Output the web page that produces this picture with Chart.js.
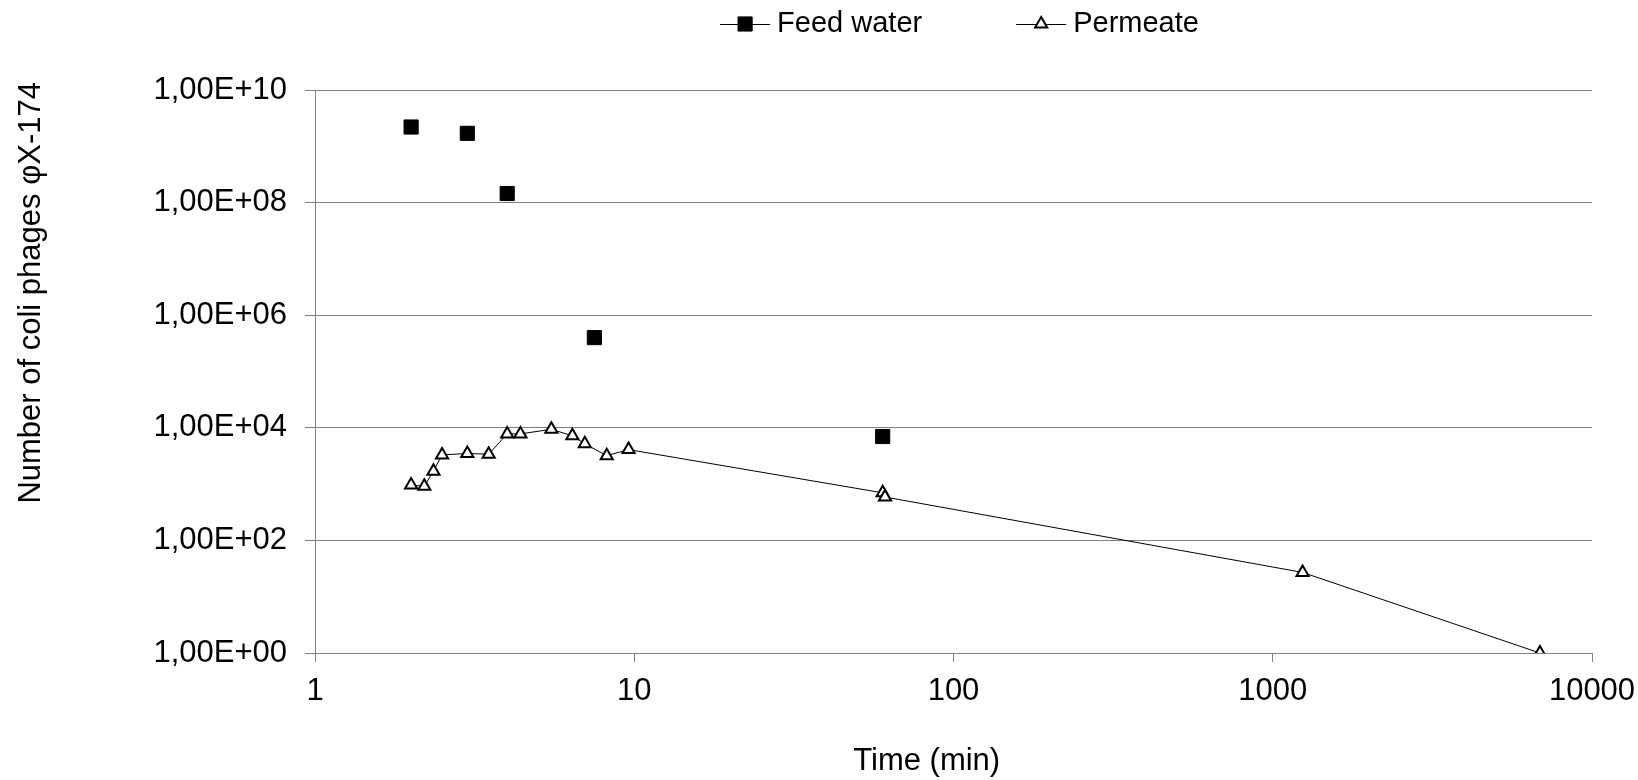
<!DOCTYPE html>
<html>
<head>
<meta charset="utf-8">
<script src="https://cdn.jsdelivr.net/npm/chart.js"></script>
<style>
  html, body { margin: 0; padding: 0; background: #fff; }
  #wrap { width: 1638px; height: 780px; }
</style>
</head>
<body>
<div id="wrap"><canvas id="phageChart" width="1638" height="780"></canvas></div>
<script>
// Datos
const feedTime = [2, 3, 4, 7.5, 60];
const feedCount = [2.2e9, 1.7e9, 1.45e8, 4.0e5, 7.0e3];

const permTime = [2, 2.2, 2.35, 2.5, 3, 3.5, 4, 4.4, 5.5, 6.4, 7, 8.2, 9.6, 60, 61, 1240, 6870];
const permCount = [960, 920, 1700, 3300, 3500, 3400, 7800, 7800, 9400, 7200, 5200, 3200, 4100, 700, 590, 27, 1];

const xTickValues = [1, 10, 100, 1000, 10000];
const xTickLabels = ['1', '10', '100', '1000', '10000'];
const yTickValues = [1, 1e2, 1e4, 1e6, 1e8, 1e10];
const yTickLabels = ['1,00E+00', '1,00E+02', '1,00E+04', '1,00E+06', '1,00E+08', '1,00E+10'];

const xTitle = 'Time (min)';
const yTitle = 'Number of coli phages φX-174';

const FONT = '"Liberation Sans", Arial, sans-serif';
const GRID = '#808080';

function toPoints(xs, ys) {
    return xs.map((x, i) => ({ x: x, y: ys[i] }));
}

// Leyenda dibujada a mano: línea + marcador + texto, centrada sobre el área del gráfico
const lineLegend = {
    id: 'lineLegend',
    afterDraw(chart) {
        const ctx = chart.ctx;
        const area = chart.chartArea;
        const lineLen = 50, textGap = 7, itemGap = 94;
        ctx.save();
        ctx.font = '29px ' + FONT;
        const items = chart.data.datasets.map(ds => ({
            ds: ds,
            w: lineLen + textGap + ctx.measureText(ds.label).width
        }));
        const total = items.reduce((s, it) => s + it.w, 0) + itemGap * (items.length - 1);
        let x = (area.left + area.right) / 2 + 6 - total / 2;
        const y = 24;
        items.forEach(it => {
            ctx.strokeStyle = '#000';
            ctx.lineWidth = 1;
            ctx.beginPath();
            ctx.moveTo(x, y + 0.5);
            ctx.lineTo(x + lineLen, y + 0.5);
            ctx.stroke();
            drawMarker(ctx, it.ds, x + lineLen / 2, y);
            ctx.fillStyle = '#000';
            ctx.textBaseline = 'middle';
            ctx.textAlign = 'left';
            ctx.fillText(it.ds.label, x + lineLen + textGap, y);
            x += it.w + itemGap;
        });
        ctx.restore();
    }
};

// Títulos de ejes (en el original no están centrados)
const axisTitles = {
    id: 'axisTitles',
    afterDraw(chart) {
        const ctx = chart.ctx;
        const area = chart.chartArea;
        ctx.save();
        ctx.fillStyle = '#000';
        ctx.font = '31px ' + FONT;
        ctx.textBaseline = 'middle';
        ctx.textAlign = 'center';
        ctx.fillText(xTitle, area.left + (area.right - area.left) * 0.479, 761);
        ctx.translate(31, area.top - 8);
        ctx.rotate(-Math.PI / 2);
        ctx.textAlign = 'right';
        ctx.fillText(yTitle, 0, 0);
        ctx.restore();
    }
};

function drawMarker(ctx, ds, cx, cy) {
    const r = ds.pointRadius;
    ctx.fillStyle = ds.pointBackgroundColor;
    ctx.strokeStyle = ds.pointBorderColor;
    ctx.lineWidth = ds.pointBorderWidth;
    ctx.beginPath();
    if (ds.pointStyle === 'rect') {
        const s = Math.SQRT1_2 * r;
        ctx.rect(cx - s, cy - s, 2 * s, 2 * s);
    } else {
        ctx.moveTo(cx, cy - r);
        ctx.lineTo(cx + r * Math.sin(Math.PI / 3), cy + r / 2);
        ctx.lineTo(cx - r * Math.sin(Math.PI / 3), cy + r / 2);
        ctx.closePath();
    }
    ctx.fill();
    ctx.stroke();
}

new Chart(document.getElementById('phageChart'), {
    type: 'scatter',
    data: {
        datasets: [{
            label: 'Feed water',
            data: toPoints(feedTime, feedCount),
            showLine: false,
            pointStyle: 'rect',
            pointRadius: 10,
            pointBackgroundColor: '#000',
            pointBorderColor: '#000',
            pointBorderWidth: 1
        }, {
            label: 'Permeate',
            data: toPoints(permTime, permCount),
            showLine: true,
            borderColor: '#000',
            borderWidth: 1,
            pointStyle: 'triangle',
            pointRadius: 7,
            pointBackgroundColor: '#fff',
            pointBorderColor: '#000',
            pointBorderWidth: 2
        }]
    },
    options: {
        responsive: false,
        animation: false,
        layout: { padding: { top: 90, right: 46, left: 0, bottom: 0 } },
        plugins: {
            legend: { display: false },
            tooltip: { enabled: false }
        },
        scales: {
            x: {
                type: 'logarithmic',
                min: 1,
                max: 10000,
                afterBuildTicks: scale => {
                    scale.ticks = xTickValues.map(v => ({ value: v }));
                },
                afterFit: scale => {
                    scale.height = 127;
                    scale.paddingLeft = 0;
                    scale.paddingRight = 0;
                },
                ticks: {
                    color: '#000',
                    font: { family: FONT, size: 31 },
                    padding: 11,
                    maxRotation: 0,
                    callback: (value) => xTickLabels[xTickValues.indexOf(value)]
                },
                grid: {
                    drawOnChartArea: false,
                    drawTicks: true,
                    tickLength: 9,
                    tickColor: GRID
                },
                border: { color: GRID, width: 1 }
            },
            y: {
                type: 'logarithmic',
                min: 1,
                max: 1e10,
                afterBuildTicks: scale => {
                    scale.ticks = yTickValues.map(v => ({ value: v }));
                },
                afterFit: scale => { scale.width = 315; },
                ticks: {
                    color: '#000',
                    font: { family: FONT, size: 31 },
                    padding: 18,
                    callback: (value) => yTickLabels[yTickValues.indexOf(value)]
                },
                grid: {
                    color: GRID,
                    lineWidth: 1,
                    drawTicks: true,
                    tickLength: 10,
                    tickColor: GRID
                },
                border: { color: GRID, width: 1 }
            }
        }
    },
    plugins: [lineLegend, axisTitles]
});
</script>
</body>
</html>
